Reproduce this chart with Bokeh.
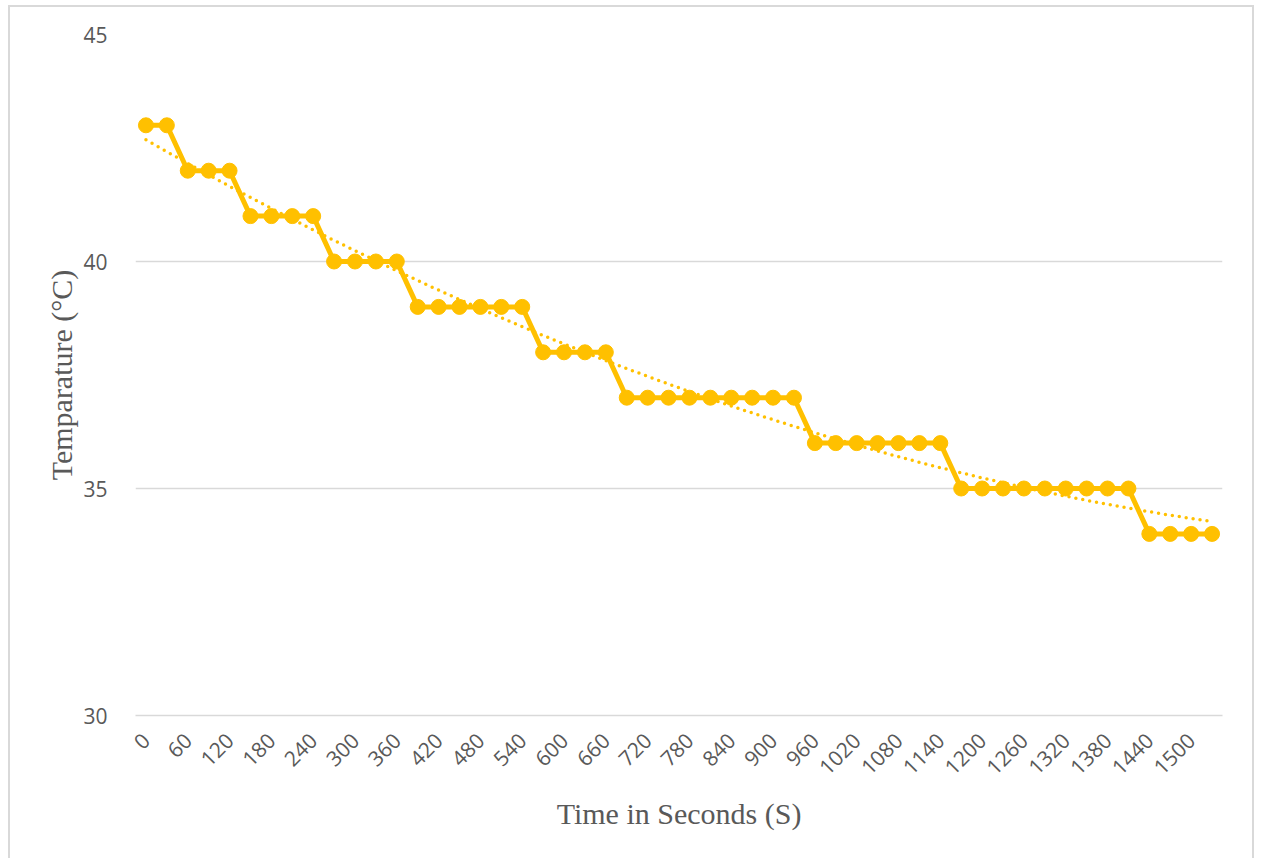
import numpy as np
from bokeh.plotting import figure
from bokeh.models import Range1d, FixedTicker, ColumnDataSource
from bokeh.embed import file_html
from bokeh.resources import INLINE

# Data
time_s = list(range(0, 1531, 30))
temperature = ([43] * 2 + [42] * 3 + [41] * 4 + [40] * 4 + [39] * 6 + [38] * 4 +
               [37] * 9 + [36] * 7 + [35] * 9 + [34] * 4)
tick_labels = [str(t) for t in range(0, 1501, 60)]

# Polynomial (order 2) trendline derived from the data, as in the original
idx = np.arange(1, len(time_s) + 1)
coef = np.polyfit(idx, temperature, 2)
trend = np.polyval(coef, idx)

COLOR = "#FFC000"
GRID = "#D9D9D9"
TXT = "#595959"

p = figure(width=1246, height=855, output_backend="svg", toolbar_location=None,
           x_range=Range1d(-15, 1545), y_range=Range1d(30, 45),
           min_border_left=125, min_border_right=34, min_border_top=27, min_border_bottom=147)
p.styles = {"margin-left": "8px", "margin-top": "5px", "border": "2px solid #D9D9D9"}
p.outline_line_color = None
p.border_fill_color = "white"
p.background_fill_color = "white"

src = ColumnDataSource(dict(x=time_s, y=temperature, t=trend))
p.line("x", "t", source=src, line_color=COLOR, line_width=3.5, line_dash="0 7",
       line_cap="round")
p.line("x", "y", source=src, line_color=COLOR, line_width=5)
p.scatter("x", "y", source=src, size=15, fill_color=COLOR, line_color=COLOR)

# Axes
p.xaxis.ticker = FixedTicker(ticks=[int(t) for t in tick_labels])
p.xaxis.major_label_orientation = np.pi / 4
p.xaxis.axis_line_color = GRID
p.xaxis.axis_line_width = 1.5
p.xaxis.major_tick_line_color = None
p.xaxis.minor_tick_line_color = None
p.xaxis.major_label_text_font = "Open Sans"
p.xaxis.major_label_text_font_size = "21px"
p.xaxis.major_label_text_color = TXT
p.xaxis.major_label_standoff = 15
p.xaxis.axis_label = "Time in Seconds (S)"
p.xaxis.axis_label_text_font = "Liberation Serif"
p.xaxis.axis_label_text_font_style = "normal"
p.xaxis.axis_label_text_font_size = "30px"
p.xaxis.axis_label_text_color = TXT
p.xaxis.axis_label_standoff = 12

p.yaxis.ticker = FixedTicker(ticks=[30, 35, 40, 45])
p.yaxis.axis_line_color = None
p.yaxis.major_tick_line_color = None
p.yaxis.minor_tick_line_color = None
p.yaxis.major_label_text_font = "Open Sans"
p.yaxis.major_label_text_font_size = "21px"
p.yaxis.major_label_text_color = TXT
p.yaxis.major_label_standoff = 22
p.yaxis.axis_label = "Temparature (°C)"
p.yaxis.axis_label_text_font = "Liberation Serif"
p.yaxis.axis_label_text_font_style = "normal"
p.yaxis.axis_label_text_font_size = "30px"
p.yaxis.axis_label_text_color = TXT
p.yaxis.axis_label_standoff = 2

p.xgrid.grid_line_color = None
p.ygrid.grid_line_color = GRID
p.ygrid.grid_line_width = 1.5

open("out.html", "w").write(file_html(p, INLINE))
